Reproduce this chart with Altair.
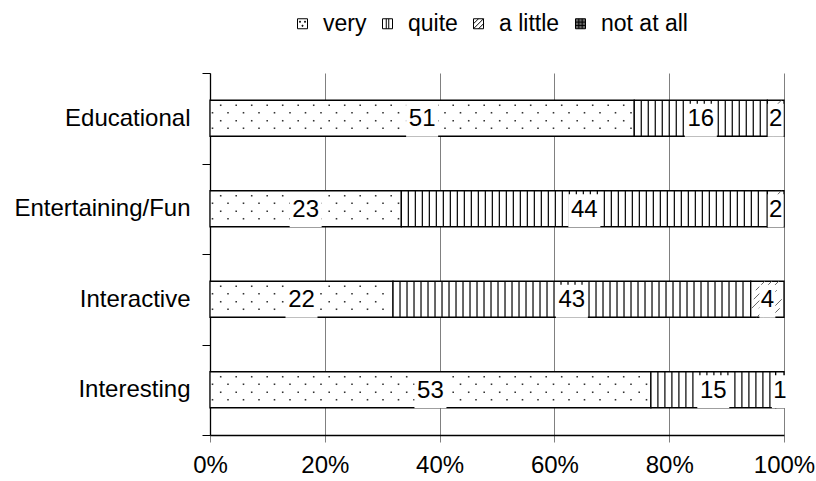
import altair as alt
import pandas as pd

# ---- data ----
categories = ["Educational", "Entertaining/Fun", "Interactive", "Interesting"]
levels = ["very", "quite", "a little", "not at all"]
very = [51, 23, 22, 53]
quite = [16, 44, 43, 15]
a_little = [2, 2, 4, 1]
not_at_all = [0, 0, 0, 0]
tick_values = [0, 0.2, 0.4, 0.6, 0.8, 1.0]

series = [very, quite, a_little, not_at_all]
rows = []
for li, (lev, vals) in enumerate(zip(levels, series)):
    for c, v in zip(categories, vals):
        rows.append({"cat": c, "level": lev, "order": li, "value": v})
df = pd.DataFrame(rows)

FONT = "Liberation Sans"
W, H = 574, 362
PX = 1.0 / W  # one pixel in normalized units

xscale = alt.Scale(domain=[0, 1])
xaxis = alt.Axis(format=".0%", values=tick_values, grid=True, gridColor="#808080",
                 gridWidth=1, domainColor="black", domainWidth=1.3, tickColor="#808080",
                 tickSize=7, labelFontSize=24, labelFont=FONT, labelColor="black",
                 labelPadding=11, labelFlush=False, title=None)
yaxis = alt.Axis(tickBand="extent", domainColor="black", domainWidth=1.3, tickColor="black",
                 tickSize=8, labelFontSize=24, labelFont=FONT, labelColor="black",
                 labelPadding=12, title=None, grid=False)
yscale = alt.Scale(paddingInner=0, paddingOuter=0)


def X(field):
    return alt.X(f"{field}:Q", scale=xscale, axis=xaxis, title=None)


Y = alt.Y("cat:N", sort=categories, scale=yscale, axis=yaxis, title=None)

base = alt.Chart(df).transform_filter("datum.value > 0").transform_stack(
    stack="value", groupby=["cat"], as_=["v0", "v1"], offset="normalize",
    sort=[alt.SortField("order", order="ascending")]
).transform_calculate(mid="(datum.v0 + datum.v1) / 2")

layers = []

# bars
layers.append(base.mark_bar(fill="white", stroke="black", strokeWidth=1.3, size=36).encode(
    x=X("v0"), x2="v1", y=Y))

# dotted pattern for "very"
dot_sp = 15.5 * PX
for off, start in [(-13, 10.7 * PX), (-5.5, 2.5 * PX), (2.5, 10.7 * PX), (10, 2.5 * PX)]:
    layers.append(
        base.transform_filter("datum.level == 'very'")
        .transform_calculate(dx=f"sequence(datum.v0 + {start}, datum.v1 - {2 * PX}, {dot_sp})")
        .transform_flatten(["dx"])
        .mark_square(size=2.5, color="#333333", opacity=1, yOffset=off)
        .encode(x=X("dx"), y=Y)
    )

# vertical stripes for "quite"
st_sp = 7 * PX
layers.append(
    base.transform_filter("datum.level == 'quite'")
    .transform_calculate(sx=f"sequence(datum.v0 + {st_sp}, datum.v1 - {3 * PX}, {st_sp})")
    .transform_flatten(["sx"])
    .mark_tick(thickness=1.2, size=36, color="black", opacity=1)
    .encode(x=X("sx"), y=Y)
)

# diagonal hatch for "a little"
hw = 9 * PX
h_sp = 7 * PX
for k in range(4):
    layers.append(
        base.transform_filter("datum.level == 'a little'")
        .transform_calculate(s=f"sequence(datum.v0 - {4 * hw}, datum.v1, {h_sp})")
        .transform_flatten(["s"])
        .transform_calculate(hx=f"datum.s + {k * hw}", hx2=f"datum.s + {(k + 1) * hw}")
        .transform_filter(f"datum.hx >= datum.v0 + {PX} && datum.hx2 <= datum.v1 - {PX}")
        .mark_rule(color="#666666", strokeWidth=1, yOffset=18 - 9 * k, y2Offset=18 - 9 * (k + 1))
        .encode(x=X("hx"), x2="hx2", y=Y, y2="cat:N")
    )

# white label backgrounds
layers.append(base.transform_filter("datum.value >= 10").mark_tick(
    thickness=32, size=33, color="white", opacity=1, yOffset=2).encode(x=X("mid"), y=Y))
layers.append(base.transform_filter("datum.value < 10").mark_tick(
    thickness=16, size=33, color="white", opacity=1, yOffset=2).encode(x=X("mid"), y=Y))

# value labels
layers.append(base.mark_text(fontSize=24, font=FONT, color="black", baseline="middle", dy=1).encode(
    x=X("mid"), y=Y, text="value:Q"))

# legend (empty layer carrying fill + shape legend)
sq = "M-1,-1H1V1H-1Z"
shapes = [
    sq + " M-0.1,0.3h0.2v0.2h-0.2Z M-0.6,-0.5h0.2v0.2h-0.2Z M0.4,-0.5h0.2v0.2h-0.2Z",
    sq + " M-0.25,-1V1 M0.25,-1V1",
    sq + " M-1,1L1,-1 M-1,0L0,-1 M0,1L1,0",
    sq + " M-0.33,-1V1 M0.33,-1V1 M-1,-0.33H1 M-1,0.33H1",
]
fills = ["white", "white", "white", "#666666"]
leg = dict(orient="none", legendX=81, legendY=-61, direction="horizontal", title=None,
           labelFontSize=23, labelFont=FONT, labelColor="black", symbolSize=100,
           labelOffset=9, columnPadding=9, symbolStrokeWidth=1)
layers.append(
    alt.Chart(df).transform_filter("false")
    .mark_point(filled=True, stroke="black", strokeWidth=1, opacity=1)
    .encode(
        fill=alt.Fill("level:N", scale=alt.Scale(domain=levels, range=fills), legend=alt.Legend(**leg)),
        shape=alt.Shape("level:N", scale=alt.Scale(domain=levels, range=shapes), legend=alt.Legend(**leg)),
    )
)

chart = alt.layer(*layers).properties(
    width=W, height=H, autosize="none",
    padding={"left": 210, "top": 73, "right": 32, "bottom": 46},
    background="white",
).configure_view(stroke=None)

chart.save("out.html", embed_options={"renderer": "svg", "actions": False})
